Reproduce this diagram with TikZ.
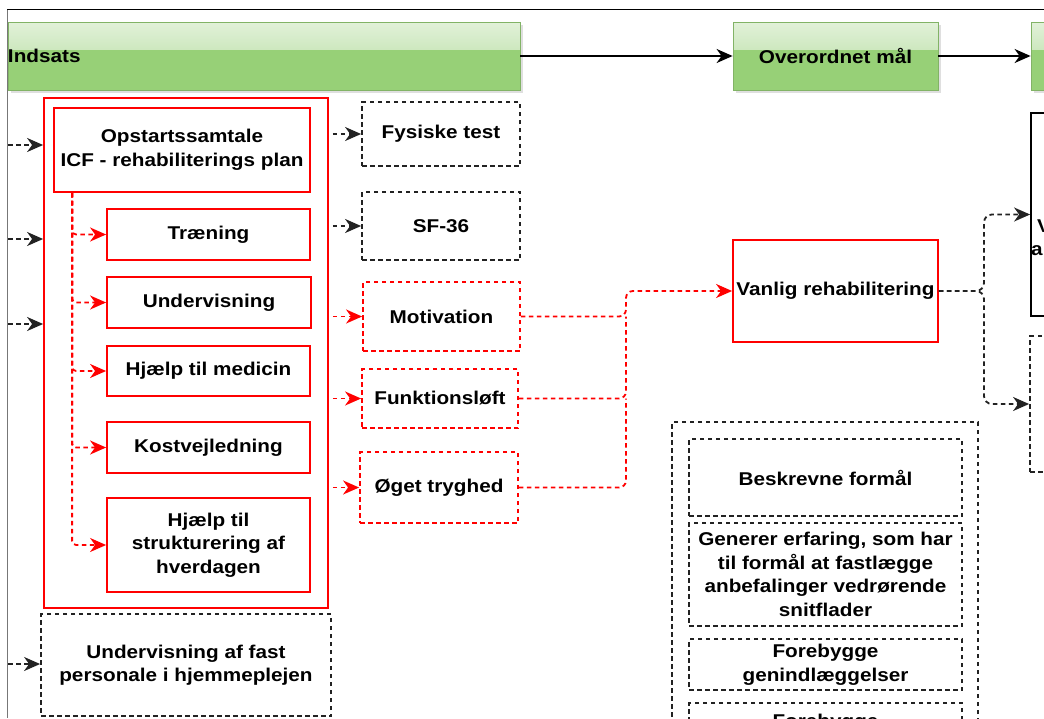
\documentclass[tikz,border=0pt]{standalone}
\usepackage{fontspec}
\setmainfont{Liberation Sans}[FakeStretch=1.12]
\usetikzlibrary{arrows.meta,calc,shadows}

\definecolor{flowred}{HTML}{FF0000}
\definecolor{greenfill}{HTML}{97D077}
\definecolor{greenline}{HTML}{82B366}
\definecolor{glasstop}{HTML}{E2F1D9}
\definecolor{glassbot}{HTML}{AFDA98}
\definecolor{dashgrey}{HTML}{222222}
\definecolor{framegrey}{HTML}{777777}

\tikzset{
  flowtip/.style={-{Stealth[length=16pt,width=14pt,inset=5pt]}},
  redbox/.style={draw=flowred, line width=1.8pt, fill=white, inner sep=0pt, align=center},
  reddashbox/.style={redbox, dash pattern=on 4.5pt off 3.5pt},
  blackdashbox/.style={draw=dashgrey, line width=1.8pt, dash pattern=on 4.5pt off 3.5pt,
    fill=white, inner sep=0pt, align=center},
  solidbox/.style={draw=black, line width=1.8pt, fill=white, inner sep=0pt, align=center},
  greenbox/.style={draw=greenline, line width=0.8pt, fill=greenfill, inner sep=0pt, align=center,
    drop shadow={shadow xshift=3pt, shadow yshift=-3pt, opacity=0.25},
    path picture={\shade[top color=glasstop, bottom color=glassbot]
      (path picture bounding box.north west) rectangle
      ($(path picture bounding box.north east)!0.4!(path picture bounding box.south east)$);}},
  blackflow/.style={draw=dashgrey, line width=1.8pt, dash pattern=on 4.5pt off 3.5pt, flowtip},
  redflow/.style={draw=flowred, line width=1.8pt, dash pattern=on 4.5pt off 3.5pt, flowtip},
  redlink/.style={draw=flowred, line width=1.8pt, dash pattern=on 4.5pt off 3.5pt},
  solidflow/.style={draw=black, line width=1.8pt, flowtip},
}

\begin{document}
\begin{tikzpicture}[x=1pt, y=-1pt, font=\fontsize{18.5}{23.5}\selectfont\bfseries]
\useasboundingbox (0,0) rectangle (1044,718);
\fill[white] (0,0) rectangle (1044,718);

\begin{scope}
\clip (8,10) rectangle (1044,718);

% header row
\node[greenbox, minimum width=512pt, minimum height=68pt, text width=512pt, align=left]
  (indsats) at (264,56) {Indsats};
\node[greenbox, minimum width=205pt, minimum height=68pt] (overordnet) at (835.5,56) {Overordnet mål};
\node[greenbox, minimum width=209pt, minimum height=68pt] (nextgoal) at (1135.5,56) {};
\draw[solidflow] (indsats.east) -- (overordnet.west);
\draw[solidflow] (overordnet.east) -- (nextgoal.west);

% intervention container and its parts
\node[redbox, minimum width=284pt, minimum height=510pt] (outerred) at (186,353) {};
\node[redbox, minimum width=256pt, minimum height=84pt] (opstart) at (182,150)
  {Opstartssamtale\\ICF - rehabiliterings plan};
\node[redbox, minimum width=203pt, minimum height=51pt] (traening) at (208.5,234.5) {Træning};
\node[redbox, minimum width=204pt, minimum height=51pt] (underv) at (209,302.5) {Undervisning};
\node[redbox, minimum width=203pt, minimum height=50pt] (medicin) at (208.5,371) {Hjælp til medicin};
\node[redbox, minimum width=203pt, minimum height=51pt] (kost) at (208.5,447.5) {Kostvejledning};
\node[redbox, minimum width=203pt, minimum height=94pt] (struktur) at (208.5,545)
  {Hjælp til\\strukturering af\\hverdagen};
\node[blackdashbox, minimum width=290pt, minimum height=102pt] (fastpers) at (186,665)
  {Undervisning af fast\\personale i hjemmeplejen};

% fan-out from the start conversation
\coordinate (spine) at ([xshift=19pt]opstart.south west);
\foreach \t in {traening,underv,medicin,kost,struktur}
  \draw[redflow, rounded corners=4pt] (spine) |- (\t.west);

% incoming arrows from the left
\coordinate (inA) at (8,145);
\coordinate (inB) at (8,239);
\coordinate (inC) at (8,324);
\coordinate (inD) at (8,664);
\draw[blackflow] (inA) -- (inA -| outerred.west);
\draw[blackflow] (inB) -- (inB -| outerred.west);
\draw[blackflow] (inC) -- (inC -| outerred.west);
\draw[blackflow] (inD) -- (inD -| fastpers.west);

% measurements and effects
\node[blackdashbox, minimum width=158pt, minimum height=64pt] (fysiske) at (441,134) {Fysiske test};
\node[blackdashbox, minimum width=158pt, minimum height=68pt] (sf36) at (441,226) {SF-36};
\node[reddashbox, minimum width=157pt, minimum height=69pt] (motivation) at (441.5,316.5) {Motivation};
\node[reddashbox, minimum width=156pt, minimum height=59pt] (funktion) at (440,398.5) {Funktionsløft};
\node[reddashbox, minimum width=158pt, minimum height=71pt] (tryghed) at (439,487.5) {Øget tryghed};

\draw[blackflow, shorten <=4pt] (outerred.east |- fysiske.west) -- (fysiske.west);
\draw[blackflow, shorten <=4pt] (outerred.east |- sf36.west) -- (sf36.west);
\draw[redflow, shorten <=4pt] (outerred.east |- motivation.west) -- (motivation.west);
\draw[redflow, shorten <=4pt] (outerred.east |- funktion.west) -- (funktion.west);
\draw[redflow, shorten <=4pt] (outerred.east |- tryghed.west) -- (tryghed.west);

% usual rehabilitation; the three effects join on one vertical line
\node[redbox, minimum width=205pt, minimum height=102pt] (vanlig) at (835.5,291) {Vanlig rehabilitering};
\coordinate (merge) at (626,0);
\draw[redflow, rounded corners=7pt] (motivation.east) -| (merge |- vanlig.west) -- (vanlig.west);
\draw[redlink, rounded corners=7pt] (funktion.east) -| (merge |- motivation.east);
\draw[redlink, rounded corners=7pt] (tryghed.east) -| (merge |- funktion.east);

% boxes to the right
\node[solidbox, minimum width=209pt, minimum height=203pt] (resultbox) at (1135.5,214.5) {};
\node[anchor=west, inner sep=0pt] (resultV) at (1037,226) {V};
\node[anchor=west, inner sep=0pt] (resulta) at (1031,251) {a};
\node[blackdashbox, minimum width=210pt, minimum height=136pt] (effectbox) at (1135,404) {};
\coordinate (fork) at (984,0);
\draw[blackflow, rounded corners=8pt] (vanlig.east) -| (fork |- resultbox.west) -- (resultbox.west);
\draw[blackflow, rounded corners=8pt] (vanlig.east) -| (fork |- effectbox.west) -- (effectbox.west);

% purposes
\node[blackdashbox, minimum width=306pt, minimum height=378pt] (purposes) at (825,611) {};
\node[blackdashbox, minimum width=273pt, minimum height=77pt] (beskrevne) at (825.5,477.5) {Beskrevne formål};
\node[blackdashbox, minimum width=273pt, minimum height=103pt] (generer) at (825.5,574.5)
  {Generer erfaring, som har\\til formål at fastlægge\\anbefalinger vedrørende\\snitflader};
\node[blackdashbox, minimum width=273pt, minimum height=51pt] (forebygA) at (825.5,664.5)
  {Forebygge\\genindlæggelser};
\node[blackdashbox, minimum width=273pt, minimum height=40pt] (forebygB) at (825.5,723) {Forebygge};
\end{scope}

% frame
\draw[black, line width=1.2pt] (7,9.5) -- (1044,9.5);
\draw[framegrey, line width=1.2pt] (7.5,9.5) -- (7.5,718);
\end{tikzpicture}
\end{document}
